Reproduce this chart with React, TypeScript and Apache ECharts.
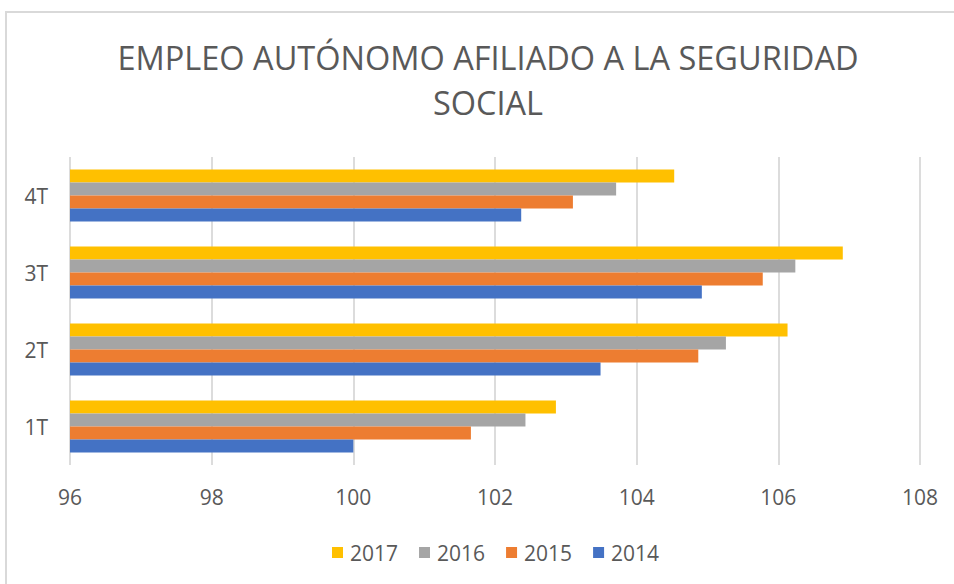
import React, { useEffect, useRef } from "react";
import * as echarts from "echarts";

const categories = ["1T", "2T", "3T", "4T"];
const years = ["2017", "2016", "2015", "2014"];
const values2014 = [100.0, 103.49, 104.92, 102.37];
const values2015 = [101.66, 104.87, 105.78, 103.1];
const values2016 = [102.43, 105.26, 106.24, 103.71];
const values2017 = [102.86, 106.13, 106.91, 104.53];
const colors = ["#FFC000", "#A5A5A5", "#ED7D31", "#4472C4"];
const legendOrder = ["2017", "2016", "2015", "2014"];
const xTicks = { min: 96, max: 108, interval: 2 };
const titleText = "EMPLEO AUTÓNOMO AFILIADO A LA SEGURIDAD\nSOCIAL";

const FONT = "'Open Sans', 'Noto Sans', sans-serif";
const TEXT_COLOR = "#595959";

export default function App() {
  const ref = useRef<HTMLDivElement>(null);
  useEffect(() => {
    if (!ref.current) return;
    const chart = echarts.init(ref.current, undefined, { renderer: "svg" });
    const seriesValues = [values2017, values2016, values2015, values2014];
    chart.setOption({
      animation: false,
      backgroundColor: "#ffffff",
      textStyle: { fontFamily: FONT },
      graphic: [
        {
          type: "rect",
          shape: { x: 6, y: 12, width: 1200, height: 1200 },
          style: { fill: "none", stroke: "#d9d9d9", lineWidth: 2 },
          silent: true,
        },
      ],
      title: {
        text: titleText,
        left: 483,
        top: 30,
        textAlign: "center",
        textStyle: {
          fontFamily: FONT,
          fontSize: 32.5,
          fontWeight: "normal",
          color: TEXT_COLOR,
          lineHeight: 45,
        },
      },
      legend: {
        data: legendOrder,
        left: 327,
        top: 537,
        icon: "rect",
        itemWidth: 11,
        itemHeight: 11,
        itemGap: 21,
        textStyle: { fontFamily: FONT, fontSize: 21, color: TEXT_COLOR, padding: [0, 0, 0, 2] },
      },
      grid: { left: 70, right: 34, top: 157, bottom: 119, containLabel: false },
      xAxis: {
        type: "value",
        min: xTicks.min,
        max: xTicks.max,
        interval: xTicks.interval,
        axisLine: { show: false },
        axisTick: { show: false },
        axisLabel: { fontFamily: FONT, fontSize: 21, color: TEXT_COLOR, margin: 21 },
        splitLine: { show: true, lineStyle: { color: "#dcdcdc", width: 2 } },
      },
      yAxis: {
        type: "category",
        data: categories,
        axisLine: { show: false },
        axisTick: { show: false },
        axisLabel: { fontFamily: FONT, fontSize: 21, color: TEXT_COLOR, margin: 22 },
      },
      series: years.map((y, i) => ({
        name: y,
        type: "bar",
        data: seriesValues[i],
        itemStyle: { color: colors[i] },
        barGap: "0%",
        barCategoryGap: "32.5%",
      })),
    });
    return () => chart.dispose();
  }, []);
  return (
    <div
      ref={ref}
      style={{ position: "fixed", left: 0, top: 0, width: 954, height: 584 }}
    />
  );
}
